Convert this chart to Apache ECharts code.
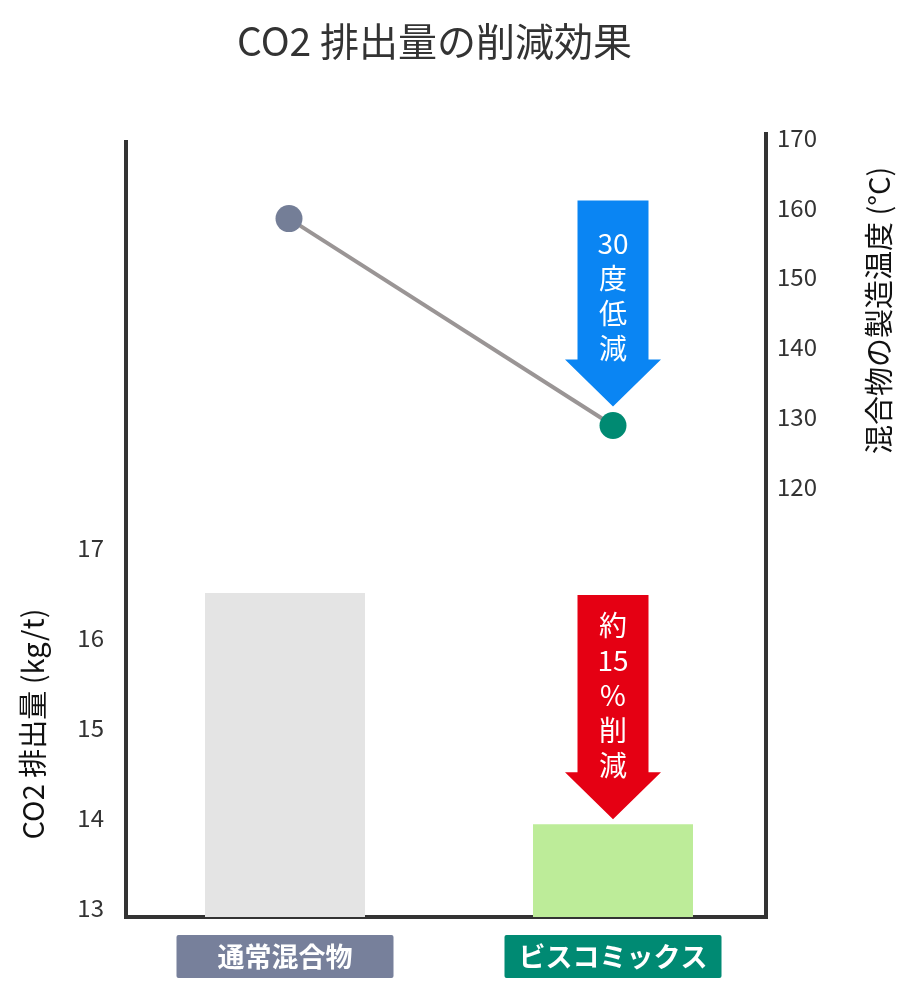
<!DOCTYPE html>
<html>
<head>
<meta charset="utf-8">
<script src="https://cdn.jsdelivr.net/npm/echarts@6/dist/echarts.min.js"></script>
<style>
  html, body { margin: 0; padding: 0; background: #fff; }
  #chart { width: 920px; height: 1000px; }
</style>
</head>
<body>
<div id="chart"></div>
<script>
var categories = ['通常混合物', 'ビスコミックス'];
var co2Values = [16.5, 13.93];
var tempValues = [158.4, 128.8];
var co2Ticks = [13, 14, 15, 16, 17];
var tempTicks = [120, 130, 140, 150, 160, 170];
var barColors = ['#e4e4e4', '#bdec99'];
var pointColors = ['#747e97', '#008a72'];
var labelColors = ['#77809b', '#008a73'];
var tempArrowText = ['30', '度', '低', '減'];
var co2ArrowText = ['約', '15', '%', '削', '減'];

var FONT = '"Noto Sans CJK JP", "Noto Sans", sans-serif';
var chart = echarts.init(document.getElementById('chart'));

var rich = {};
categories.forEach(function (c, i) {
  rich['c' + i] = {
    backgroundColor: labelColors[i],
    color: '#fff',
    fontSize: 27,
    fontWeight: 'bold',
    fontFamily: FONT,
    width: 217,
    height: 43,
    lineHeight: 43,
    align: 'center',
    verticalAlign: 'middle',
    borderRadius: 2
  };
});

var axisLineStyle = { color: '#333', width: 4, cap: 'square' };

chart.setOption({
  animation: false,
  title: {
    text: 'CO2 排出量の削減効果',
    left: 232,
    top: 17,
    textStyle: { fontSize: 39, fontWeight: 'normal', color: '#333', fontFamily: FONT }
  },
  grid: [
    { left: 121, right: 143, top: 142, bottom: 83 },  // bars
    { left: 127, right: 145, top: 134, bottom: 83 },  // temperature line
    { left: 126, right: 154, top: 142, bottom: 83 }   // bottom frame line
  ],
  xAxis: [
    {
      gridIndex: 0, type: 'category', data: categories,
      axisLine: { show: false }, axisTick: { show: false },
      axisLabel: {
        margin: 18,
        interval: 0,
        formatter: function (v, i) { return '{c' + i + '|' + v + '}'; },
        rich: rich
      }
    },
    { gridIndex: 1, type: 'category', data: categories, show: false },
    {
      gridIndex: 2, type: 'category', data: categories,
      axisLine: { show: true, lineStyle: axisLineStyle },
      axisTick: { show: false }, axisLabel: { show: false }
    }
  ],
  yAxis: [
    {
      gridIndex: 0, type: 'value', position: 'left', offset: -5,
      min: 12.9, max: 21.51,
      axisLine: { show: true, lineStyle: axisLineStyle },
      axisTick: { show: false }, splitLine: { show: false },
      axisLabel: {
        customValues: co2Ticks,
        margin: 22, fontSize: 24, color: '#333', fontFamily: FONT
      }
    },
    {
      gridIndex: 1, type: 'value', position: 'right', offset: -9,
      min: 58.5, max: 170.5,
      axisLine: { show: true, lineStyle: axisLineStyle },
      axisTick: { show: false }, splitLine: { show: false },
      axisLabel: {
        customValues: tempTicks,
        margin: 11, fontSize: 24, color: '#333', fontFamily: FONT
      }
    },
    { gridIndex: 2, type: 'value', show: false }
  ],
  series: [
    {
      type: 'bar', xAxisIndex: 0, yAxisIndex: 0, barWidth: 160,
      data: co2Values.map(function (v, i) {
        return { value: v, itemStyle: { color: barColors[i] } };
      })
    },
    {
      type: 'line', xAxisIndex: 1, yAxisIndex: 1,
      symbol: 'circle', symbolSize: 27,
      lineStyle: { color: '#9a9595', width: 4 },
      data: tempValues.map(function (v, i) {
        return { value: v, itemStyle: { color: pointColors[i] } };
      }),
      z: 3
    }
  ]
});

// arrows and axis titles placed from data coordinates
function arrow(cx, top, tip, color) {
  var sw = 35.5, hw = 48, hh = 47;
  return {
    type: 'polygon',
    shape: { points: [
      [cx - sw, top], [cx + sw, top], [cx + sw, tip - hh], [cx + hw, tip - hh],
      [cx, tip], [cx - hw, tip - hh], [cx - sw, tip - hh]
    ] },
    style: { fill: color }
  };
}
function arrowText(cx, y, lines) {
  return {
    type: 'text', x: cx, y: y,
    style: {
      text: lines.join('\n'), fill: '#fff', font: '28px ' + FONT,
      lineHeight: 35, align: 'center', verticalAlign: 'top'
    }
  };
}

var p1 = chart.convertToPixel({ seriesIndex: 1 }, [0, tempValues[0]]);
var p2 = chart.convertToPixel({ seriesIndex: 1 }, [1, tempValues[1]]);
var b1 = chart.convertToPixel({ seriesIndex: 0 }, [0, co2Values[0]]);
var b2 = chart.convertToPixel({ seriesIndex: 0 }, [1, co2Values[1]]);
var leftMid = chart.convertToPixel({ seriesIndex: 0 }, [0, 15])[1];
var rightMid = chart.convertToPixel({ seriesIndex: 1 }, [0, 145])[1];

chart.setOption({
  graphic: [
    arrow(p2[0], p1[1] - 18, p2[1] - 19, '#0a85f3'),
    arrowText(p2[0], p1[1] + 7, tempArrowText),
    arrow(b2[0], b1[1] + 2, b2[1] - 5, '#e50013'),
    arrowText(b2[0], b1[1] + 15, co2ArrowText),
    {
      type: 'text', x: 33, y: leftMid - 4, rotation: Math.PI / 2,
      style: { text: 'CO2 排出量 (kg/t)', fill: '#111', font: '29px ' + FONT, align: 'center', verticalAlign: 'middle' }
    },
    {
      type: 'text', x: 879, y: rightMid - 2, rotation: Math.PI / 2,
      style: { text: '混合物の製造温度 (°C)', fill: '#111', font: '29px ' + FONT, align: 'center', verticalAlign: 'middle' }
    }
  ]
});
</script>
</body>
</html>
